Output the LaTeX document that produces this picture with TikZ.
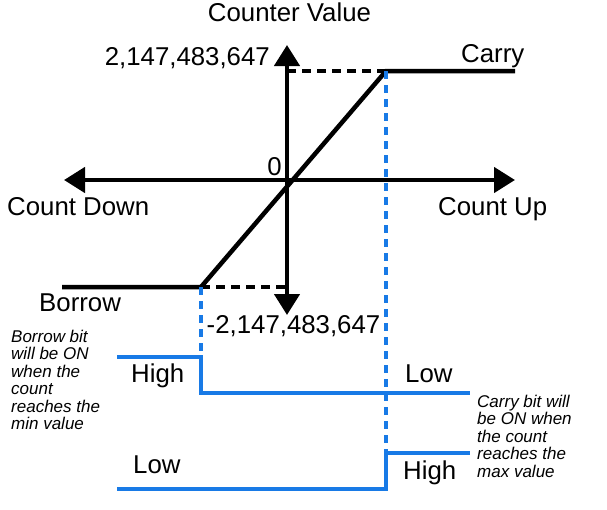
\documentclass[tikz,border=0pt]{standalone}
\usepackage{fontspec}
\setmainfont{Liberation Sans}
\usetikzlibrary{arrows.meta}
\definecolor{sigblue}{RGB}{24,122,230}

\begin{document}
\begin{tikzpicture}[
        x=1pt, y=-1pt,
        axis/.style={
            line width=4.5pt,
            {Triangle[length=21pt,width=25pt]}-{Triangle[length=21pt,width=25pt]}
        },
        curve/.style={
            line width=4.5pt,
            line join=miter
        },
        levelline/.style={
            line width=4pt,
            dash pattern=on 9pt off 6pt
        },
        guide/.style={
            sigblue,
            line width=3.5pt,
            dash pattern=on 8pt off 6pt
        },
        signal/.style={
            sigblue,
            line width=4.5pt
        },
        lbl/.style={
            inner sep=0pt,
            font=\fontsize{25.8}{30}\selectfont
        },
        note/.style={
            inner sep=0pt,
            align=left,
            font=\fontsize{17}{17.4}\selectfont\itshape
        }
    ]
        \useasboundingbox (0,0) rectangle (607,509);

        % Axes
        \coordinate (o) at (287,180);
        \coordinate (xl) at (64,180);
        \coordinate (xr) at (515,180);
        \coordinate (yt) at (287,45);
        \coordinate (yb) at (287,315);
        \draw[axis] (xl) -- (xr);
        \draw[axis] (yb) -- (yt);

        % Counter curve
        \coordinate (bend) at (62,287);
        \coordinate (cmin) at (201,287);
        \coordinate (cmax) at (386,71);
        \coordinate (cend) at (515,71);
        \coordinate (ymaxp) at (287,71);
        \coordinate (yminp) at (287,287);
        \draw[curve] (bend) -- (cmin) -- (cmax) -- (cend);
        \draw[levelline] (ymaxp) -- (cmax);
        \draw[levelline] (cmin) -- (yminp);

        % Borrow and carry signals
        \coordinate (b0) at (117,357);
        \coordinate (b1) at (201,357);
        \coordinate (b2) at (201,393);
        \coordinate (b3) at (470,393);
        \coordinate (c0) at (117,489);
        \coordinate (c1) at (386,489);
        \coordinate (c2) at (386,453);
        \coordinate (c3) at (470,453);
        \draw[guide] (cmin) -- (b1);
        \draw[guide] (cmax) -- (c2);
        \draw[signal] (b0) -- (b1) -- (b2) -- (b3);
        \draw[signal] (c0) -- (c1) -- (c2) -- (c3);

        % Labels
        \node[lbl, anchor=base] (title) at (289.5,21) {Counter Value};
        \node[lbl, anchor=base east] (vmax) at (270,65) {2,147,483,647};
        \node[lbl, anchor=base] (vmin) at (293.5,333) {-2,147,483,647};
        \node[lbl, anchor=base east] (zero) at (282,175) {0};
        \node[lbl, anchor=base west] (cdown) at (7,215) {Count Down};
        \node[lbl, anchor=base west] (cup) at (438,215) {Count Up};
        \node[lbl, anchor=base west] (carry) at (461,62) {Carry};
        \node[lbl, anchor=base west] (borrow) at (39,311) {Borrow};
        \node[lbl, anchor=base west] (bhigh) at (131,382) {High};
        \node[lbl, anchor=base west] (blow) at (405,382) {Low};
        \node[lbl, anchor=base west] (clow) at (133,473) {Low};
        \node[lbl, anchor=base west] (chigh) at (403,479) {High};

        \node[note, anchor=north west] (bnote) at (11,330)
            {Borrow bit\\will be ON\\when the\\count\\reaches the\\min value};
        \node[note, anchor=north west] (cnote) at (477,395)
            {Carry bit will\\be ON when\\the count\\reaches the\\max value};

    \end{tikzpicture}
\end{document}
